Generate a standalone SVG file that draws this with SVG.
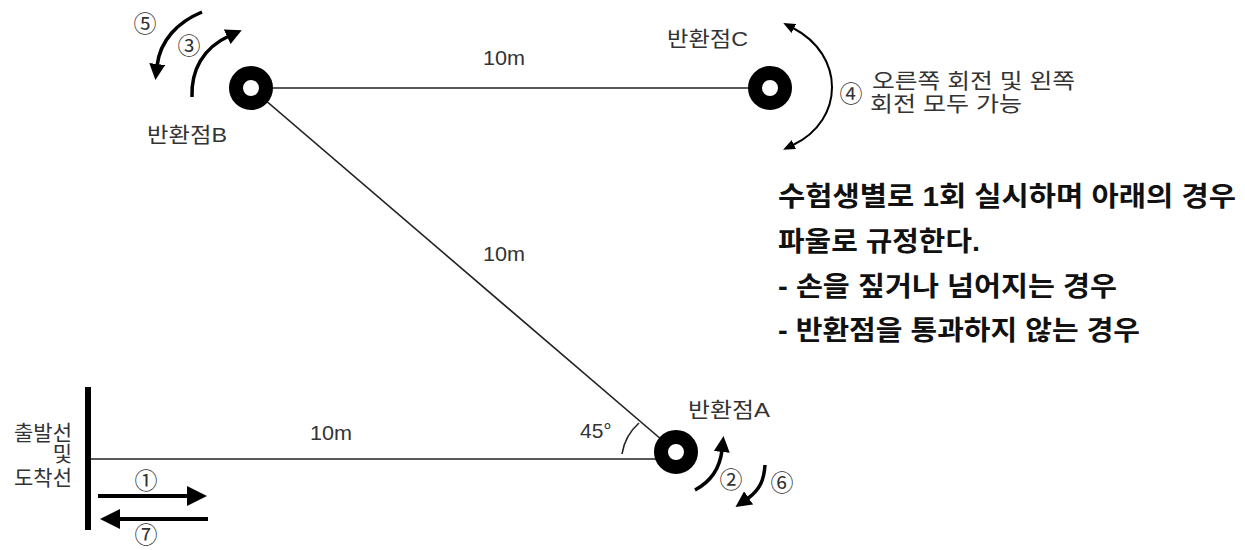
<svg xmlns="http://www.w3.org/2000/svg" width="1245" height="550" viewBox="0 0 1245 550">
  <style>
    .lbl { font-family: "Liberation Sans", "Noto Sans CJK KR", sans-serif; font-size: 21px; fill: #333; }
    .num { font-family: "Noto Sans CJK KR", "DejaVu Sans", sans-serif; font-size: 23px; fill: #333; text-anchor: middle; dominant-baseline: central; }
    .bold { font-family: "Liberation Sans", "Noto Sans CJK KR", sans-serif; font-size: 27px; font-weight: bold; fill: #111; }
    .track { stroke: #222; stroke-width: 1.6; fill: none; }
    .ring { fill: #fff; stroke: #000; stroke-width: 14; }
    .arr { stroke: #000; fill: none; }
  </style>
  <defs>
    <marker id="big" viewBox="0 0 20 20" markerUnits="userSpaceOnUse" markerWidth="20" markerHeight="20" refX="2" refY="10" orient="auto">
      <path d="M0,0 L20,10 L0,20 z" fill="#000"/>
    </marker>
    <marker id="mid" viewBox="0 0 16 16" markerUnits="userSpaceOnUse" markerWidth="16" markerHeight="16" refX="2" refY="8" orient="auto">
      <path d="M0,0 L16,8 L0,16 z" fill="#000"/>
    </marker>
    <marker id="small" viewBox="0 0 12 10" markerUnits="userSpaceOnUse" markerWidth="12" markerHeight="10" refX="1" refY="5" orient="auto-start-reverse">
      <path d="M0,0 L12,5 L0,10 z" fill="#000"/>
    </marker>
  </defs>
  <rect width="1245" height="550" fill="#fff"/>

  <g id="connectors">
    <line class="track" x1="251" y1="88" x2="770" y2="88"/>
    <line class="track" x1="251" y1="88" x2="676" y2="452"/>
    <line class="track" x1="88" y1="459" x2="676" y2="459"/>
    <path class="track" d="M 622 454 A 52 52 0 0 1 639 423"/>
    <path class="arr" stroke-width="4" d="M 98 496 L 189 496" marker-end="url(#big)"/>
    <path class="arr" stroke-width="4" d="M 208 519 L 118 519" marker-end="url(#big)"/>
    <path class="arr" stroke-width="3.5" d="M 192 97 C 191 70, 203 48, 229 36" marker-end="url(#mid)"/>
    <path class="arr" stroke-width="3.5" d="M 202 12 C 178 22, 160 40, 157 66" marker-end="url(#mid)"/>
    <path class="arr" stroke-width="3.5" d="M 695 490 C 710 482, 720 468, 722 450" marker-end="url(#mid)"/>
    <path class="arr" stroke-width="3.5" d="M 765 465 C 764 480, 760 490, 747 499" marker-end="url(#mid)"/>
    <path class="arr" stroke-width="2" d="M 793 28 C 845 55, 845 120, 793 145" marker-start="url(#small)" marker-end="url(#small)"/>
  </g>

  <g id="start-line">
    <line x1="88" y1="387" x2="88" y2="530" stroke="#000" stroke-width="6"/>
    <text class="lbl" x="72" y="440" text-anchor="end">출발선</text>
    <text class="lbl" x="72" y="461" text-anchor="end">및</text>
    <text class="lbl" x="72" y="485" text-anchor="end">도착선</text>
  </g>

  <g id="point-b">
    <circle class="ring" cx="251" cy="88" r="15"/>
    <text class="lbl" x="147" y="142" textLength="80" lengthAdjust="spacingAndGlyphs">반환점B</text>
  </g>

  <g id="point-c">
    <circle class="ring" cx="770" cy="88" r="15"/>
    <text class="lbl" x="667" y="46" textLength="81" lengthAdjust="spacingAndGlyphs">반환점C</text>
  </g>

  <g id="point-a">
    <circle class="ring" cx="676" cy="452" r="15"/>
    <text class="lbl" x="688" y="417" textLength="82" lengthAdjust="spacingAndGlyphs">반환점A</text>
  </g>

  <g id="distances">
    <text class="lbl" x="483" y="65" textLength="42" lengthAdjust="spacingAndGlyphs">10m</text>
    <text class="lbl" x="483" y="261" textLength="42" lengthAdjust="spacingAndGlyphs">10m</text>
    <text class="lbl" x="310" y="440" textLength="42" lengthAdjust="spacingAndGlyphs">10m</text>
    <text class="lbl" x="580" y="438" font-size="19">45°</text>
  </g>

  <g id="steps">
    <text class="num" x="146" y="479">①</text>
    <text class="num" x="731" y="478">②</text>
    <text class="num" x="189" y="44">③</text>
    <text class="num" x="851" y="92">④</text>
    <text class="num" x="145" y="22">⑤</text>
    <text class="num" x="782" y="481">⑥</text>
    <text class="num" x="146" y="533">⑦</text>
  </g>

  <g id="note-c">
    <text class="lbl" x="872" y="88" textLength="203" lengthAdjust="spacingAndGlyphs">오른쪽 회전 및 왼쪽</text>
    <text class="lbl" x="870" y="111" textLength="152" lengthAdjust="spacingAndGlyphs">회전 모두 가능</text>
  </g>

  <g id="rules">
    <text class="bold" x="778" y="206" textLength="458" lengthAdjust="spacingAndGlyphs">수험생별로 1회 실시하며 아래의 경우</text>
    <text class="bold" x="778" y="251" textLength="202" lengthAdjust="spacingAndGlyphs">파울로 규정한다.</text>
    <text class="bold" x="778" y="296" textLength="339" lengthAdjust="spacingAndGlyphs">- 손을 짚거나 넘어지는 경우</text>
    <text class="bold" x="778" y="340" textLength="362" lengthAdjust="spacingAndGlyphs">- 반환점을 통과하지 않는 경우</text>
  </g>
</svg>
